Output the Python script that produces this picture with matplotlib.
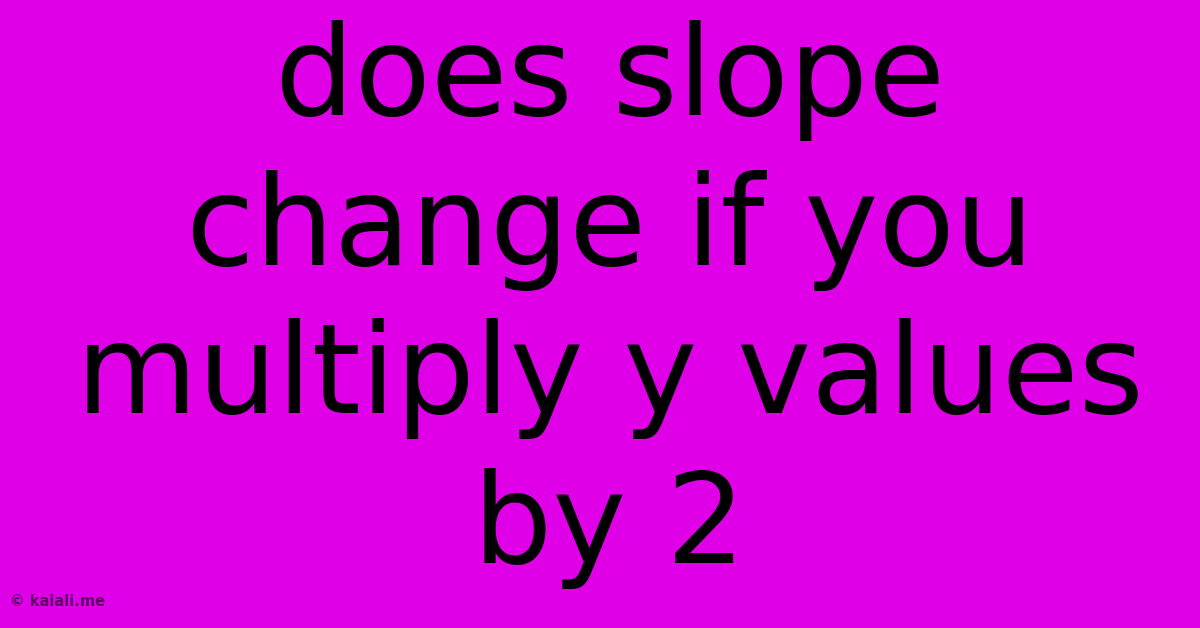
import matplotlib.pyplot as plt

BG = "#e000e8"
TITLE_LINES = ["does slope", "change if you", "multiply y values", "by 2"]
# baseline of each line, in figure fraction from the bottom
LINE_BASE = [0.817, 0.578, 0.342, 0.104]
WATERMARK = "© kalali.me"

fig = plt.figure(figsize=(12, 6.28), dpi=100)
fig.patch.set_facecolor(BG)

for line, y in zip(TITLE_LINES, LINE_BASE):
    fig.text(0.508, y, line, ha="center", va="baseline", fontsize=90,
             family="DejaVu Sans", color="black")

fig.text(0.008, 1 - 606 / 628, WATERMARK, ha="left", va="baseline",
         fontsize=10.5, fontweight="bold", family="DejaVu Sans",
         color="#4a0050", alpha=0.85)

fig.savefig("out.png", dpi=100, facecolor=BG)
